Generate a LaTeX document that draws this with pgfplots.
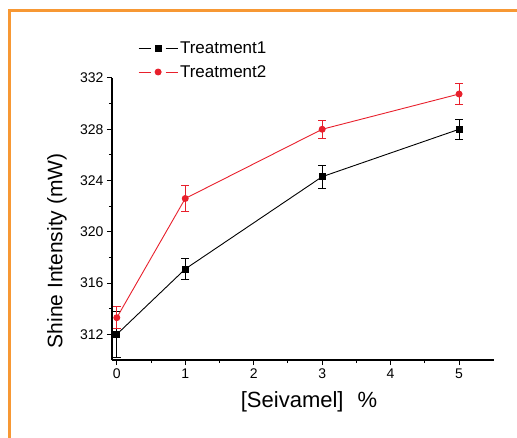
\documentclass[border=0pt]{standalone}
\usepackage{pgfplots}
\pgfplotsset{compat=1.18}
\usepackage{fontspec}
\setmainfont{Liberation Sans}
\definecolor{tred}{RGB}{232,32,44}
\definecolor{frameorange}{RGB}{247,152,52}

\begin{document}
\begin{tikzpicture}[x=1pt,y=1pt]
\begin{axis}[
  name=ax,
  at={(0pt,0pt)}, anchor=south west,
  scale only axis,
  width=382pt, height=282pt,
  xmin=-0.07, xmax=5.51,
  ymin=310, ymax=332,
  axis x line*=bottom, axis y line*=left,
  axis line style={line width=1.2pt, -},
  xtick={0,1,2,3,4,5},
  ytick={312,316,320,324,328,332},
  minor x tick num=1, minor y tick num=1,
  tick align=outside,
  major tick length=5pt, minor tick length=3pt,
  tick style={line width=1pt, black},
  /pgf/number format/assume math mode=true,
  ticklabel style={font=\fontsize{14}{14}\selectfont},
  every axis x label/.style={at={(rel axis cs:0.5,0)}, xshift=6pt, yshift=-42pt, anchor=center,
    font=\fontsize{22}{22}\selectfont},
  every axis y label/.style={at={(rel axis cs:0,0.387)}, xshift=-55pt, rotate=90, anchor=center,
    font=\fontsize{21}{21}\selectfont},
  xlabel={[Seivamel]\hspace{14pt}\%},
  ylabel={Shine Intensity (mW)},
  legend style={draw=none, fill=none, at={(rel axis cs:0.068,1.135)}, anchor=north west,
    font=\fontsize{17}{17}\selectfont, inner sep=0pt, row sep=6pt},
  legend cell align=left,
  legend image code/.code={
    \draw[#1, mark=none] (0pt,0pt) -- (12pt,0pt);
    \draw[#1, mark=none] (27pt,0pt) -- (39pt,0pt);
    \draw[#1] plot coordinates {(19.5pt,0pt)};
  },
  error bars/error mark options={rotate=90, mark size=4pt, line width=0.9pt},
]
\addplot[black, line width=0.9pt, mark=square*, mark size=3pt,
  error bars/.cd, y dir=both, y explicit,
  error bar style={line width=0.9pt, black}]
  coordinates {
  (0,312.0) +- (0,1.8)
  (1,317.1) +- (0,0.8)
  (3,324.3) +- (0,0.9)
  (5,328.0) +- (0,0.8)
};
\addlegendentry{Treatment1}
\addplot[tred, line width=0.9pt, mark=*, mark size=3pt,
  error bars/.cd, y dir=both, y explicit,
  error bar style={line width=0.9pt, tred}]
  coordinates {
  (0,313.3) +- (0,0.85)
  (1,322.6) +- (0,1.0)
  (3,328.0) +- (0,0.7)
  (5,330.75) +- (0,0.85)
};
\addlegendentry{Treatment2}
\end{axis}
\draw[frameorange, line width=3pt] (-102.5,-90) -- (-102.5,349.5) -- (420,349.5);
\pgfresetboundingbox
\useasboundingbox (-112,-77) rectangle (405,360);
\end{tikzpicture}
\end{document}
